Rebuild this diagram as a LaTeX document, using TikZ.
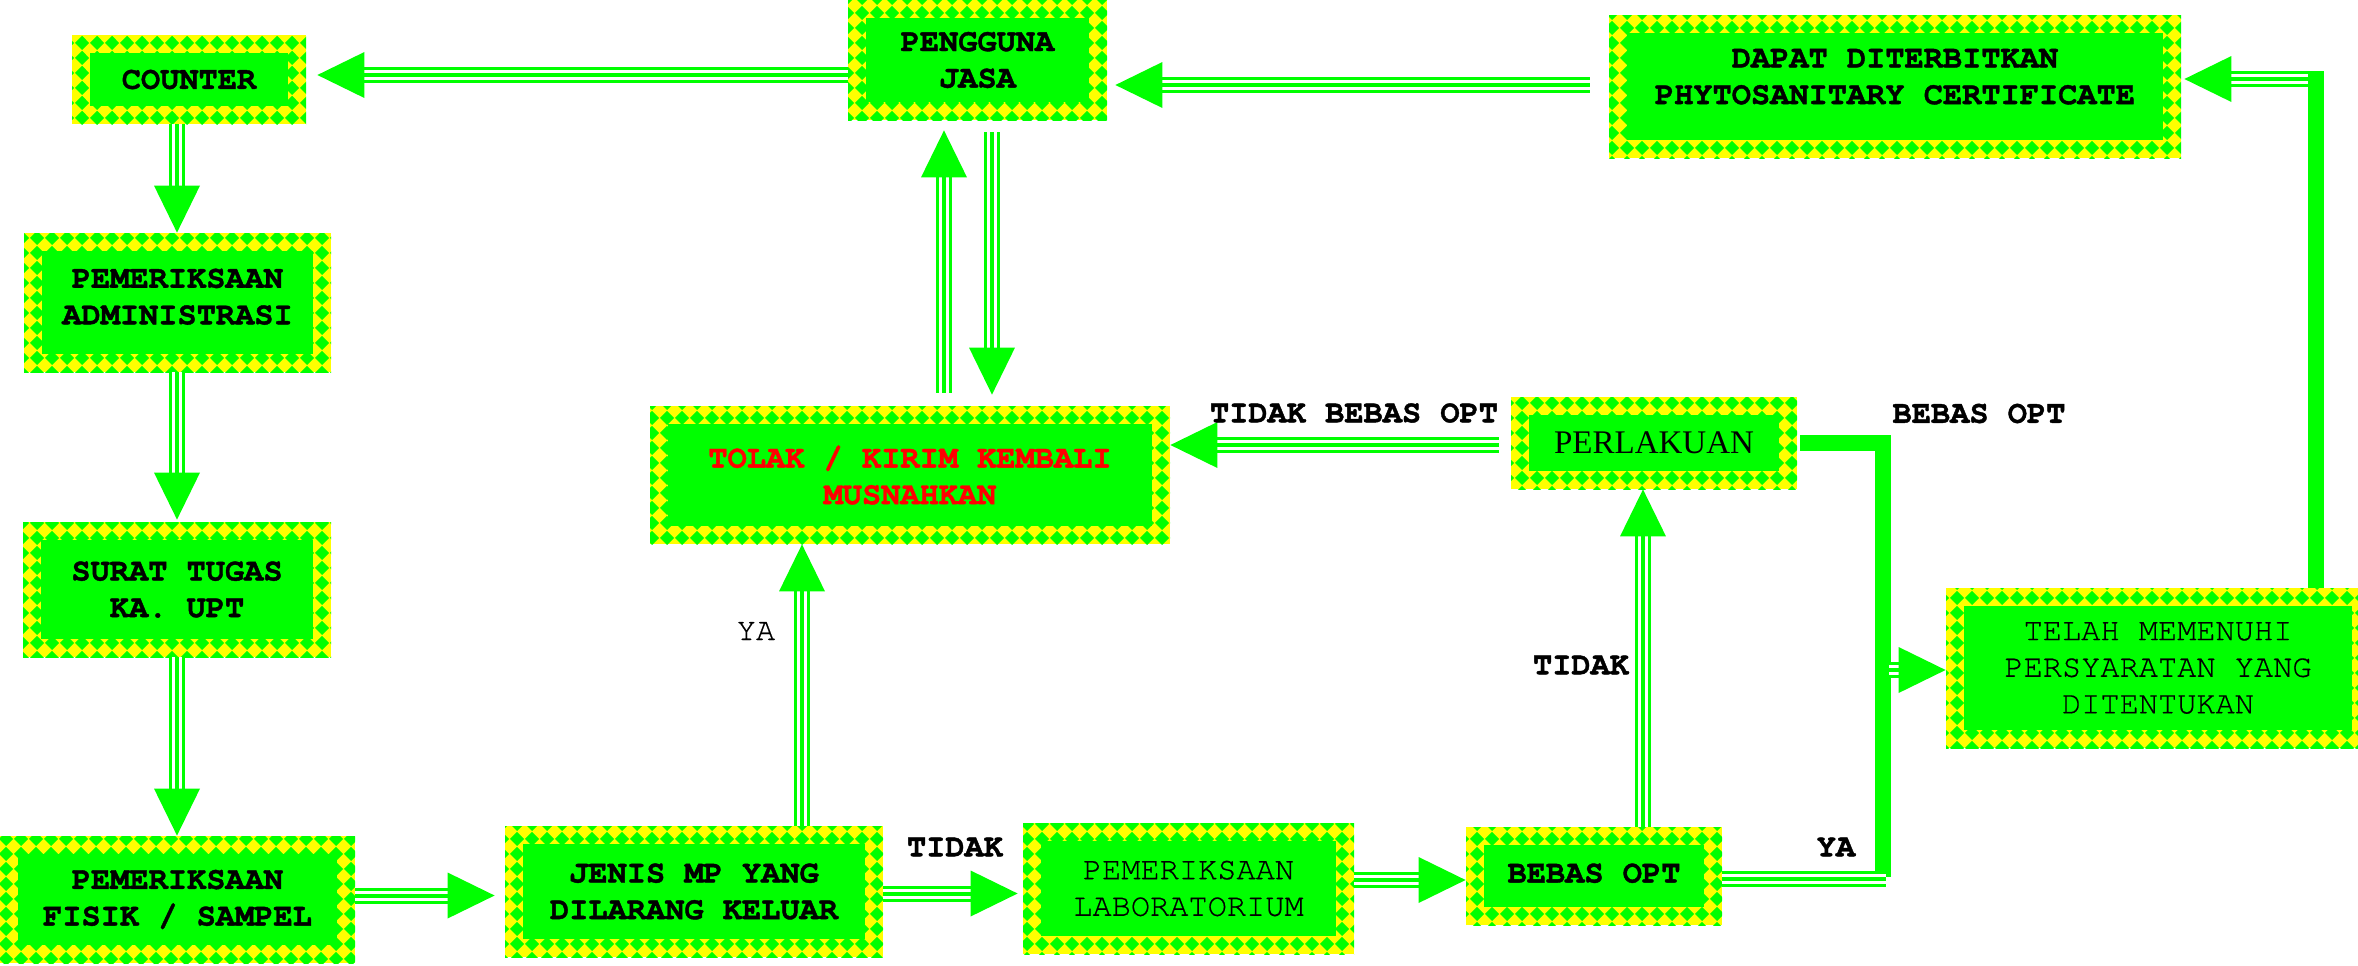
\documentclass[tikz,border=0pt]{standalone}
\usepackage{fontspec}
\newfontfamily\cour[BoldFeatures={FakeBold=1.2}]{TeX Gyre Cursor}
\newfontfamily\courr[FakeBold=0.5]{TeX Gyre Cursor}
\newfontfamily\tim{Liberation Serif}
\usetikzlibrary{patterns,calc}
\definecolor{G}{RGB}{0,255,0}
\definecolor{Y}{RGB}{255,255,0}
\definecolor{R}{RGB}{255,0,0}
\pgfdeclarepatternformonly{diamondtile}{\pgfqpoint{0pt}{0pt}}{\pgfqpoint{7.5pt}{7.5pt}}{\pgfqpoint{7.5pt}{7.5pt}}{%
  \pgfpathmoveto{\pgfqpoint{3.75pt}{0pt}}%
  \pgfpathlineto{\pgfqpoint{7.5pt}{3.75pt}}%
  \pgfpathlineto{\pgfqpoint{3.75pt}{7.5pt}}%
  \pgfpathlineto{\pgfqpoint{0pt}{3.75pt}}%
  \pgfpathclose\pgfusepath{fill}}
\newcommand\dn[1]{\rule[-#1]{0pt}{#1}}
% #1 start coordinate name, #2 tip coordinate name
\newcommand\farrow[2]{%
  \coordinate (hb) at ($(#2)!23.5pt!(#1)$);
  \draw[tri] (#1) -- (hb);
  \fill[G] (#2) -- ($(hb)!11.5pt!90:(#2)$) -- ($(hb)!11.5pt!-90:(#2)$) -- cycle;}
\tikzset{
  box/.style={rectangle, inner sep=0pt, align=center, text=black,
    preaction={fill=Y}, pattern=diamondtile, pattern color=G,
    path picture={\fill[G] ([shift={(9pt,-9pt)}]path picture bounding box.north west) rectangle ([shift={(-9pt,9pt)}]path picture bounding box.south east);},
    font=\cour\bfseries\fontsize{16}{18.3}\selectfont},
  thinfont/.style={font=\courr\fontsize{16}{18.3}\selectfont},
  bw/.style={minimum width=#1*0.5pt},
  bh/.style={minimum height=#1*0.5pt},
  tri/.style={draw=G, line width=8pt, postaction={draw=white, line width=5pt}, postaction={draw=G, line width=2pt}},
  thickbar/.style={draw=G, line width=8pt},
  lbl/.style={inner sep=0pt, text=black, font=\cour\bfseries\fontsize{16}{18.3}\selectfont},
  lblthin/.style={inner sep=0pt, text=black, thinfont},
}
\begin{document}
\begin{tikzpicture}[x=0.5pt,y=-0.5pt]
\fill[white] (0,0) rectangle (2358,965);
\useasboundingbox (0,0) rectangle (2358,965);

% boxes
\node[box,bw=234,bh=89] (counter) at (189,79.5) {COUNTER};
\node[box,bw=259,bh=120] (pj) at (977.5,60) {PENGGUNA\\JASA};
\node[box,bw=572,bh=143] (dapat) at (1895,86.5) {DAPAT DITERBITKAN\\PHYTOSANITARY CERTIFICATE\dn{10pt}};
\node[box,bw=307,bh=139] (admin) at (177.5,302.5) {PEMERIKSAAN\\ADMINISTRASI\dn{6pt}};
\node[box,bw=308,bh=135] (surat) at (177,589.5) {SURAT TUGAS\\KA. UPT};
\node[box,bw=355,bh=127] (fisik) at (177.5,899.5) {PEMERIKSAAN\\FISIK / SAMPEL};
\node[box,bw=378,bh=131] (jenis) at (694,891.5) {JENIS MP YANG\\DILARANG KELUAR};
\node[box,bw=331,bh=131,thinfont] (lab) at (1188.5,888.5) {PEMERIKSAAN\\LABORATORIUM};
\node[box,bw=256,bh=98] (bebas) at (1594,876) {BEBAS OPT\dn{3pt}};
\node[box,bw=520,bh=138,text=R] (tolak) at (910,475) {TOLAK / KIRIM KEMBALI\\MUSNAHKAN};
\node[box,bw=286,bh=92,font=\tim\fontsize{16.5}{18}\selectfont] (perl) at (1654,443) {PERLAKUAN};
\node[box,bw=424,bh=160,thinfont] (telah) at (2158,668) {TELAH MEMENUHI\\PERSYARATAN YANG\\DITENTUKAN};

% arrow end points
\coordinate (s1) at (pj.west |- 0,75);
\coordinate (t1) at ($(counter.east |- 0,75)+(11,0)$);
\coordinate (s2) at ($(dapat.west |- 0,85)+(-19,0)$);
\coordinate (t2) at ($(pj.east |- 0,85)+(8,0)$);
\coordinate (s3) at (counter.south -| 177,0);
\coordinate (t3) at (admin.north -| 177,0);
\coordinate (s4) at (admin.south -| 177,0);
\coordinate (t4) at ($(surat.north -| 177,0)+(0,-2)$);
\coordinate (s5) at (surat.south -| 177,0);
\coordinate (t5) at (fisik.north -| 177,0);
\coordinate (s6) at (fisik.east |- 0,895.5);
\coordinate (t6) at ($(jenis.west |- 0,895.5)+(-10,0)$);
\coordinate (s7) at (jenis.east |- 0,893.5);
\coordinate (t7) at ($(lab.west |- 0,893.5)+(-5,0)$);
\coordinate (s8) at (lab.east |- 0,880);
\coordinate (t8) at (bebas.west |- 0,880);
\coordinate (s9) at (jenis.north -| 802,0);
\coordinate (t9) at (tolak.south -| 802,0);
\coordinate (s10) at (bebas.north -| 1643,0);
\coordinate (t10) at (perl.south -| 1643,0);
\coordinate (s11) at ($(perl.west |- 0,445)+(-12,0)$);
\coordinate (t11) at (tolak.east |- 0,445);
\coordinate (s12) at ($(tolak.north -| 944,0)+(0,-13)$);
\coordinate (t12) at ($(pj.south -| 944,0)+(0,10)$);
\coordinate (s13) at ($(pj.south -| 992,0)+(0,12)$);
\coordinate (t13) at ($(tolak.north -| 992,0)+(0,-11)$);
\coordinate (bartop) at (2316,71);
\coordinate (s14) at (2308,79);
\coordinate (t14) at ($(dapat.east |- 0,79)+(3,0)$);
\coordinate (jtop) at (1883,443);
\coordinate (jbot) at (1883,877);
\coordinate (s15) at (bebas.east |- 0,878.5);
\coordinate (e15) at (1886,878.5);
\coordinate (s16) at (1889,670);
\coordinate (t16) at (telah.west |- 0,670);

% connectors
\farrow{s1}{t1}
\farrow{s2}{t2}
\farrow{s3}{t3}
\farrow{s4}{t4}
\farrow{s5}{t5}
\farrow{s6}{t6}
\farrow{s7}{t7}
\farrow{s8}{t8}
\farrow{s9}{t9}
\farrow{s10}{t10}
\farrow{s11}{t11}
\farrow{s12}{t12}
\farrow{s13}{t13}
\draw[thickbar] (telah.north -| bartop) -- (bartop);
\farrow{s14}{t14}
\draw[thickbar] ($(perl.east |- jtop)+(3,0)$) -- (jtop) -- (jbot);
\draw[tri] (s15) -- (e15);
\farrow{s16}{t16}

% labels
\node[lbl] (l1) at (1354,413) {TIDAK BEBAS OPT};
\node[lbl] (l2) at (1979,413.5) {BEBAS OPT};
\node[lbl] (l3) at (1581,665) {TIDAK};
\node[lblthin] (l4) at (756,631) {YA};
\node[lbl] (l5) at (955,847) {TIDAK};
\node[lbl] (l6) at (1836,847) {YA};
\end{tikzpicture}
\end{document}
